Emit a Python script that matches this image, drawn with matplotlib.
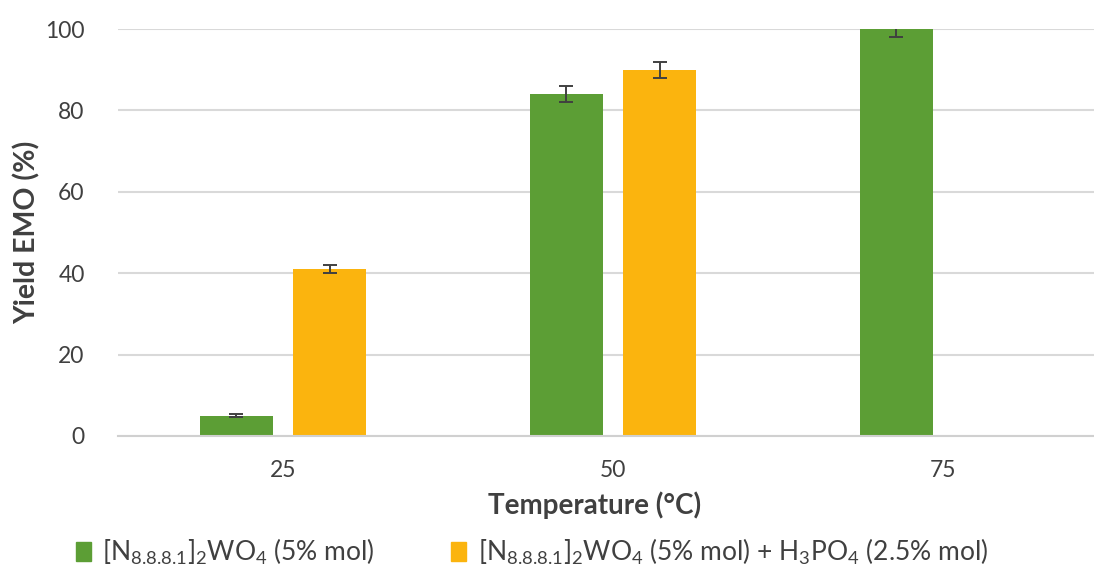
import matplotlib
matplotlib.use("Agg")
import matplotlib.pyplot as plt
import numpy as np
from matplotlib.patches import Patch

plt.rcParams['font.family'] = ['Lato', 'DejaVu Sans']
plt.rcParams['mathtext.default'] = 'regular'

categories = ['25', '50', '75']
series_names = [r'[N$_{8.8.8.1}$]$_2$WO$_4$ (5% mol)',
                r'[N$_{8.8.8.1}$]$_2$WO$_4$ (5% mol) + H$_3$PO$_4$ (2.5% mol)']
green_vals = [5, 84, 100]
green_err = [0.3, 2, 2]
orange_vals = [41, 90, np.nan]
orange_err = [1, 2, np.nan]
colors = ['#5C9E35', '#FBB40E']
text_color = '#404040'

W, H = 1094, 569
fig = plt.figure(figsize=(W / 100, H / 100), dpi=100)
ax = fig.add_axes([118 / W, (H - 436) / H, (1108 - 118) / W, (436 - 29) / H])

x = np.arange(len(categories))
width = 0.224
off = 0.141
ax.bar(x - off, green_vals, width, color=colors[0], zorder=2)
ax.bar(x + off, orange_vals, width, color=colors[1], zorder=2)
ax.errorbar(x - off, green_vals, yerr=green_err, fmt='none', ecolor=text_color,
            elinewidth=1.4, capsize=4.7, capthick=1.4, zorder=3)
ax.errorbar(x + off, orange_vals, yerr=orange_err, fmt='none', ecolor=text_color,
            elinewidth=1.4, capsize=4.7, capthick=1.4, zorder=3)

ax.set_xlim(-0.5, 2.5)
ax.set_ylim(0, 100)
ax.set_yticks([0, 20, 40, 60, 80, 100])
ax.set_xticks(x)
ax.set_xticklabels(categories)
ax.yaxis.grid(True, color='#d9d9d9', linewidth=1.5, zorder=0)
ax.set_axisbelow(True)
for s in ['top', 'right', 'left']:
    ax.spines[s].set_visible(False)
ax.spines['bottom'].set_color('#d0d0d0')
ax.spines['bottom'].set_linewidth(1.5)
ax.tick_params(axis='both', length=0, labelsize=16.5, colors=text_color)
ax.tick_params(axis='y', pad=24)
ax.tick_params(axis='x', pad=17)

ax.set_xlabel('Temperature (°C)', fontsize=20, fontweight='bold', color=text_color, labelpad=5)
ax.xaxis.set_label_coords((595 - 118) / 990, -0.135)
ax.set_ylabel('Yield EMO (%)', fontsize=20.5, fontweight='bold', color=text_color, labelpad=3)

handles = [Patch(color=c) for c in colors]
fig.legend(handles, series_names, loc='center', bbox_to_anchor=(532 / W, 1 - 552 / H),
           ncol=2, frameon=False, fontsize=19, handlelength=0.55, handleheight=0.75,
           handletextpad=0.45, columnspacing=2.9, labelcolor=text_color)

fig.savefig('out.png', dpi=100)
